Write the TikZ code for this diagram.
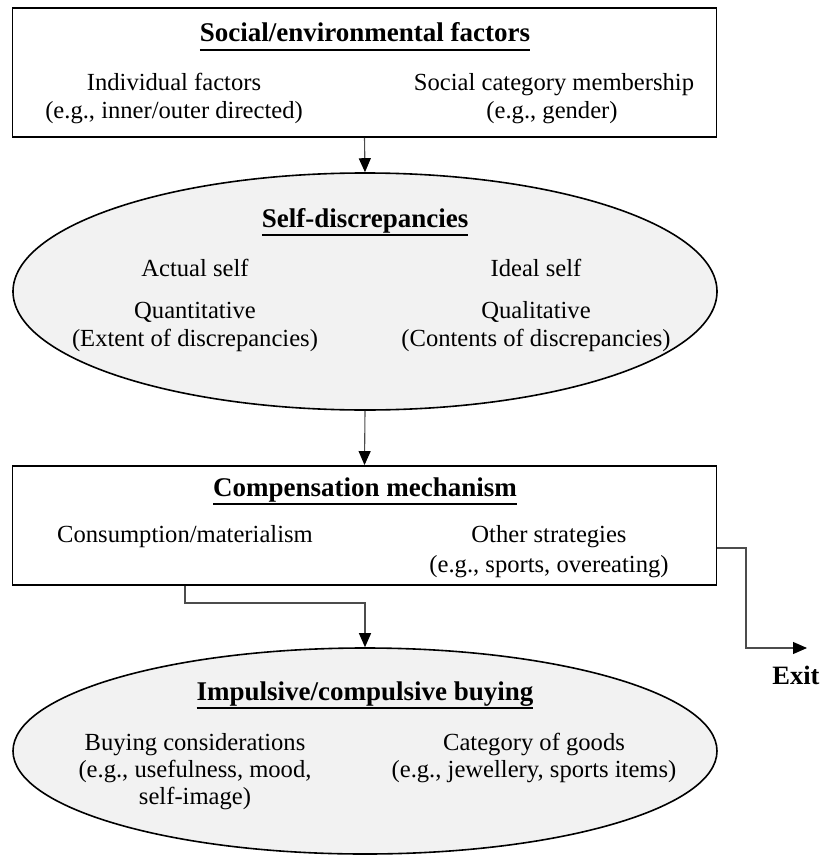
\documentclass[tikz,border=0pt]{standalone}
\usepackage{fontspec}
\setmainfont{Liberation Serif}
\usetikzlibrary{shapes.geometric,arrows.meta}
% bold heading with a fixed-depth underline
\newsavebox{\headbox}
\newcommand{\heading}[1]{\sbox{\headbox}{\fontsize{27}{30}\selectfont\bfseries #1}\leavevmode\rlap{\raisebox{-9pt}{\rule{\wd\headbox}{1.6pt}}}\usebox{\headbox}}
\begin{document}
\begin{tikzpicture}[x=1pt,y=-1pt,
  every node/.style={font=\fontsize{24.6}{28}\selectfont},
  frame/.style={draw=black,line width=1.9pt,rectangle,minimum width=704pt,inner sep=0pt},
  bubble/.style={draw=black,line width=1.6pt,ellipse,fill=black!5,minimum width=704pt,inner sep=0pt},
  txt/.style={anchor=base,inner sep=0pt},
  link/.style={draw=black!70,line width=1.1pt},
  arrowlink/.style={link,-{Triangle[length=14pt,width=12pt,color=black]}}]
\useasboundingbox (0,0) rectangle (822,856);

% boxes and ellipses
\node[frame,minimum height=129pt] (social) at (364.5,72.5) {};
\node[bubble,minimum height=237pt] (self) at (365,291.5) {};
\node[frame,minimum height=119pt] (comp) at (364.5,525.5) {};
\node[bubble,minimum height=206pt] (buy) at (365,751) {};

% social/environmental factors
\node[txt] (t1) at (365,42) {\heading{Social/environmental factors}};
\node[txt] (t1a) at (174,91) {Individual factors};
\node[txt] (t1b) at (174,119) {(e.g., inner/outer directed)};
\node[txt] (t1c) at (554,91) {Social category membership};
\node[txt] (t1d) at (552,119) {(e.g., gender)};

% self-discrepancies
\node[txt] (t2) at (365,227) {\heading{Self-discrepancies}};
\node[txt] (t2a) at (195,276) {Actual self};
\node[txt] (t2b) at (536,276) {Ideal self};
\node[txt] (t2c) at (195,318) {Quantitative};
\node[txt] (t2d) at (195,346) {(Extent of discrepancies)};
\node[txt] (t2e) at (536,318) {Qualitative};
\node[txt] (t2f) at (536,346) {(Contents of discrepancies)};

% compensation mechanism
\node[txt] (t3) at (365,496) {\heading{Compensation mechanism}};
\node[txt] (t3a) at (185,542) {Consumption/materialism};
\node[txt] (t3b) at (549,542) {Other strategies};
\node[txt] (t3c) at (549,572) {(e.g., sports, overeating)};

% impulsive/compulsive buying
\node[txt] (t4) at (365,700) {\heading{Impulsive/compulsive buying}};
\node[txt] (t4a) at (195,750) {Buying considerations};
\node[txt] (t4b) at (195,777) {(e.g., usefulness, mood,};
\node[txt] (t4c) at (195,804) {self-image)};
\node[txt] (t4d) at (534,750) {Category of goods};
\node[txt] (t4e) at (534,777) {(e.g., jewellery, sports items)};

% exit
\coordinate (bend1) at (185,603);
\coordinate (bend2) at (746,548);
\coordinate (exitpt) at (807,648);
\node[txt,font=\fontsize{26.5}{30}\selectfont\bfseries] (exitlbl) at (796,684) {Exit};

% connectors
\draw[arrowlink] (social.south) -- (self.north);
\draw[arrowlink] (self.south) -- (comp.north);
\draw[arrowlink] (comp.south -| bend1) -- (bend1) -| (buy.north);
\draw[arrowlink] (comp.east |- bend2) -- (bend2) |- (exitpt);
\end{tikzpicture}
\end{document}
